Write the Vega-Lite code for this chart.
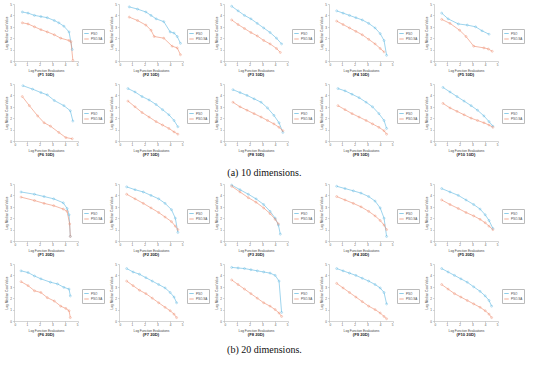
{
"$schema":"https://vega.github.io/schema/vega-lite/v6.json",
"padding":{"left":4,"top":3,"right":0,"bottom":0},
"background":"white",
"config":{
"font":"Liberation Sans",
"view":{"continuousWidth":64,"continuousHeight":57,"stroke":null},
"title":{"orient":"bottom","fontSize":4.2,"fontWeight":"bold","offset":1.5,"color":"#222","anchor":"middle"},
"axis":{"labelFontSize":3,"titleFontSize":3.2,"titleFontWeight":"normal","labelColor":"#555","titleColor":"#444","domainColor":"#aaa","tickColor":"#aaa","tickSize":1.5,"labelPadding":1,"titlePadding":1.5,"grid":false,"domainWidth":0.5,"tickWidth":0.5,"tickCount":6},
"legend":{"orient":"none","legendX":68,"legendY":25,"labelFontSize":3,"symbolType":"stroke","symbolSize":20,"symbolStrokeWidth":0.7,"strokeColor":"#bbb","padding":1.5,"rowPadding":0.5,"labelOffset":1.5,"labelColor":"#444"}
},
"data":{"values":[
{"panel":"F1 10D","alg":"PSO","x":0.65,"y":4.3},{"panel":"F1 10D","alg":"PSO","x":1.1,"y":4.2},{"panel":"F1 10D","alg":"PSO","x":1.6,"y":4.0},{"panel":"F1 10D","alg":"PSO","x":2.1,"y":3.9},{"panel":"F1 10D","alg":"PSO","x":2.6,"y":3.8},{"panel":"F1 10D","alg":"PSO","x":3.15,"y":3.55},{"panel":"F1 10D","alg":"PSO","x":3.5,"y":3.35},{"panel":"F1 10D","alg":"PSO","x":3.9,"y":3.05},{"panel":"F1 10D","alg":"PSO","x":4.3,"y":2.55},{"panel":"F1 10D","alg":"PSO","x":4.55,"y":1.0},
{"panel":"F1 10D","alg":"PSO-SA","x":0.65,"y":3.35},{"panel":"F1 10D","alg":"PSO-SA","x":1.1,"y":3.25},{"panel":"F1 10D","alg":"PSO-SA","x":1.6,"y":3.0},{"panel":"F1 10D","alg":"PSO-SA","x":2.1,"y":2.75},{"panel":"F1 10D","alg":"PSO-SA","x":2.6,"y":2.55},{"panel":"F1 10D","alg":"PSO-SA","x":3.15,"y":2.3},{"panel":"F1 10D","alg":"PSO-SA","x":3.65,"y":2.0},{"panel":"F1 10D","alg":"PSO-SA","x":4.3,"y":1.8},{"panel":"F1 10D","alg":"PSO-SA","x":4.45,"y":1.7},{"panel":"F1 10D","alg":"PSO-SA","x":4.6,"y":0.05},
{"panel":"F2 10D","alg":"PSO","x":0.8,"y":4.75},{"panel":"F2 10D","alg":"PSO","x":1.45,"y":4.55},{"panel":"F2 10D","alg":"PSO","x":2.1,"y":4.3},{"panel":"F2 10D","alg":"PSO","x":2.5,"y":4.0},{"panel":"F2 10D","alg":"PSO","x":2.9,"y":3.7},{"panel":"F2 10D","alg":"PSO","x":3.5,"y":3.45},{"panel":"F2 10D","alg":"PSO","x":4.0,"y":2.55},{"panel":"F2 10D","alg":"PSO","x":4.3,"y":2.45},{"panel":"F2 10D","alg":"PSO","x":4.55,"y":2.15},{"panel":"F2 10D","alg":"PSO","x":4.8,"y":1.55},
{"panel":"F2 10D","alg":"PSO-SA","x":0.8,"y":3.85},{"panel":"F2 10D","alg":"PSO-SA","x":1.45,"y":3.55},{"panel":"F2 10D","alg":"PSO-SA","x":2.1,"y":3.15},{"panel":"F2 10D","alg":"PSO-SA","x":2.5,"y":2.7},{"panel":"F2 10D","alg":"PSO-SA","x":2.75,"y":2.15},{"panel":"F2 10D","alg":"PSO-SA","x":3.5,"y":2.0},{"panel":"F2 10D","alg":"PSO-SA","x":4.15,"y":1.3},{"panel":"F2 10D","alg":"PSO-SA","x":4.55,"y":1.15},{"panel":"F2 10D","alg":"PSO-SA","x":4.8,"y":0.55},
{"panel":"F3 10D","alg":"PSO","x":0.6,"y":4.8},{"panel":"F3 10D","alg":"PSO","x":1.1,"y":4.4},{"panel":"F3 10D","alg":"PSO","x":1.6,"y":4.0},{"panel":"F3 10D","alg":"PSO","x":2.1,"y":3.7},{"panel":"F3 10D","alg":"PSO","x":2.6,"y":3.3},{"panel":"F3 10D","alg":"PSO","x":3.1,"y":2.9},{"panel":"F3 10D","alg":"PSO","x":3.6,"y":2.5},{"panel":"F3 10D","alg":"PSO","x":4.1,"y":2.0},{"panel":"F3 10D","alg":"PSO","x":4.5,"y":1.5},
{"panel":"F3 10D","alg":"PSO-SA","x":0.6,"y":3.6},{"panel":"F3 10D","alg":"PSO-SA","x":1.1,"y":3.2},{"panel":"F3 10D","alg":"PSO-SA","x":1.6,"y":2.85},{"panel":"F3 10D","alg":"PSO-SA","x":2.1,"y":2.5},{"panel":"F3 10D","alg":"PSO-SA","x":2.6,"y":2.2},{"panel":"F3 10D","alg":"PSO-SA","x":3.1,"y":1.8},{"panel":"F3 10D","alg":"PSO-SA","x":3.6,"y":1.5},{"panel":"F3 10D","alg":"PSO-SA","x":4.1,"y":1.1},{"panel":"F3 10D","alg":"PSO-SA","x":4.4,"y":0.75},
{"panel":"F4 10D","alg":"PSO","x":0.6,"y":4.4},{"panel":"F4 10D","alg":"PSO","x":1.1,"y":4.2},{"panel":"F4 10D","alg":"PSO","x":1.6,"y":4.0},{"panel":"F4 10D","alg":"PSO","x":2.1,"y":3.8},{"panel":"F4 10D","alg":"PSO","x":2.6,"y":3.6},{"panel":"F4 10D","alg":"PSO","x":3.1,"y":3.3},{"panel":"F4 10D","alg":"PSO","x":3.6,"y":2.9},{"panel":"F4 10D","alg":"PSO","x":4.0,"y":2.4},{"panel":"F4 10D","alg":"PSO","x":4.3,"y":1.8},{"panel":"F4 10D","alg":"PSO","x":4.5,"y":0.5},
{"panel":"F4 10D","alg":"PSO-SA","x":0.6,"y":3.5},{"panel":"F4 10D","alg":"PSO-SA","x":1.1,"y":3.2},{"panel":"F4 10D","alg":"PSO-SA","x":1.6,"y":2.9},{"panel":"F4 10D","alg":"PSO-SA","x":2.1,"y":2.6},{"panel":"F4 10D","alg":"PSO-SA","x":2.6,"y":2.3},{"panel":"F4 10D","alg":"PSO-SA","x":3.1,"y":1.9},{"panel":"F4 10D","alg":"PSO-SA","x":3.6,"y":1.5},{"panel":"F4 10D","alg":"PSO-SA","x":4.0,"y":1.1},{"panel":"F4 10D","alg":"PSO-SA","x":4.3,"y":0.8},
{"panel":"F5 10D","alg":"PSO","x":0.6,"y":4.2},{"panel":"F5 10D","alg":"PSO","x":1.1,"y":3.7},{"panel":"F5 10D","alg":"PSO","x":1.9,"y":3.25},{"panel":"F5 10D","alg":"PSO","x":2.6,"y":3.15},{"panel":"F5 10D","alg":"PSO","x":3.25,"y":3.0},{"panel":"F5 10D","alg":"PSO","x":3.75,"y":2.65},{"panel":"F5 10D","alg":"PSO","x":4.3,"y":2.35},
{"panel":"F5 10D","alg":"PSO-SA","x":0.6,"y":3.65},{"panel":"F5 10D","alg":"PSO-SA","x":1.25,"y":3.3},{"panel":"F5 10D","alg":"PSO-SA","x":2.0,"y":2.7},{"panel":"F5 10D","alg":"PSO-SA","x":2.5,"y":2.15},{"panel":"F5 10D","alg":"PSO-SA","x":3.1,"y":1.3},{"panel":"F5 10D","alg":"PSO-SA","x":3.9,"y":1.15},{"panel":"F5 10D","alg":"PSO-SA","x":4.25,"y":1.05},{"panel":"F5 10D","alg":"PSO-SA","x":4.55,"y":0.85},
{"panel":"F6 10D","alg":"PSO","x":0.7,"y":4.85},{"panel":"F6 10D","alg":"PSO","x":1.45,"y":4.55},{"panel":"F6 10D","alg":"PSO","x":2.1,"y":4.25},{"panel":"F6 10D","alg":"PSO","x":2.6,"y":4.05},{"panel":"F6 10D","alg":"PSO","x":3.15,"y":3.55},{"panel":"F6 10D","alg":"PSO","x":3.9,"y":3.1},{"panel":"F6 10D","alg":"PSO","x":4.4,"y":2.65},{"panel":"F6 10D","alg":"PSO","x":4.6,"y":1.75},
{"panel":"F6 10D","alg":"PSO-SA","x":0.65,"y":3.9},{"panel":"F6 10D","alg":"PSO-SA","x":1.2,"y":3.1},{"panel":"F6 10D","alg":"PSO-SA","x":1.85,"y":2.2},{"panel":"F6 10D","alg":"PSO-SA","x":2.35,"y":1.6},{"panel":"F6 10D","alg":"PSO-SA","x":2.85,"y":1.3},{"panel":"F6 10D","alg":"PSO-SA","x":3.5,"y":0.75},{"panel":"F6 10D","alg":"PSO-SA","x":4.05,"y":0.3},{"panel":"F6 10D","alg":"PSO-SA","x":4.55,"y":0.2},
{"panel":"F7 10D","alg":"PSO","x":0.7,"y":4.6},{"panel":"F7 10D","alg":"PSO","x":1.25,"y":4.3},{"panel":"F7 10D","alg":"PSO","x":1.8,"y":3.9},{"panel":"F7 10D","alg":"PSO","x":2.35,"y":3.6},{"panel":"F7 10D","alg":"PSO","x":2.9,"y":3.2},{"panel":"F7 10D","alg":"PSO","x":3.4,"y":2.75},{"panel":"F7 10D","alg":"PSO","x":3.9,"y":2.3},{"panel":"F7 10D","alg":"PSO","x":4.3,"y":1.8},{"panel":"F7 10D","alg":"PSO","x":4.6,"y":1.25},
{"panel":"F7 10D","alg":"PSO-SA","x":0.7,"y":3.5},{"panel":"F7 10D","alg":"PSO-SA","x":1.25,"y":3.0},{"panel":"F7 10D","alg":"PSO-SA","x":1.8,"y":2.5},{"panel":"F7 10D","alg":"PSO-SA","x":2.35,"y":2.1},{"panel":"F7 10D","alg":"PSO-SA","x":2.9,"y":1.7},{"panel":"F7 10D","alg":"PSO-SA","x":3.4,"y":1.4},{"panel":"F7 10D","alg":"PSO-SA","x":3.9,"y":1.1},{"panel":"F7 10D","alg":"PSO-SA","x":4.3,"y":0.8},{"panel":"F7 10D","alg":"PSO-SA","x":4.6,"y":0.6},
{"panel":"F8 10D","alg":"PSO","x":0.7,"y":4.5},{"panel":"F8 10D","alg":"PSO","x":1.25,"y":4.25},{"panel":"F8 10D","alg":"PSO","x":1.8,"y":4.0},{"panel":"F8 10D","alg":"PSO","x":2.35,"y":3.7},{"panel":"F8 10D","alg":"PSO","x":2.9,"y":3.4},{"panel":"F8 10D","alg":"PSO","x":3.4,"y":2.9},{"panel":"F8 10D","alg":"PSO","x":3.9,"y":2.25},{"panel":"F8 10D","alg":"PSO","x":4.3,"y":1.6},{"panel":"F8 10D","alg":"PSO","x":4.6,"y":0.75},
{"panel":"F8 10D","alg":"PSO-SA","x":0.7,"y":3.4},{"panel":"F8 10D","alg":"PSO-SA","x":1.25,"y":3.0},{"panel":"F8 10D","alg":"PSO-SA","x":1.8,"y":2.7},{"panel":"F8 10D","alg":"PSO-SA","x":2.35,"y":2.4},{"panel":"F8 10D","alg":"PSO-SA","x":2.9,"y":2.1},{"panel":"F8 10D","alg":"PSO-SA","x":3.4,"y":1.8},{"panel":"F8 10D","alg":"PSO-SA","x":3.9,"y":1.5},{"panel":"F8 10D","alg":"PSO-SA","x":4.3,"y":1.2},{"panel":"F8 10D","alg":"PSO-SA","x":4.6,"y":0.9},
{"panel":"F9 10D","alg":"PSO","x":0.7,"y":4.6},{"panel":"F9 10D","alg":"PSO","x":1.25,"y":4.4},{"panel":"F9 10D","alg":"PSO","x":1.8,"y":4.1},{"panel":"F9 10D","alg":"PSO","x":2.35,"y":3.8},{"panel":"F9 10D","alg":"PSO","x":2.9,"y":3.4},{"panel":"F9 10D","alg":"PSO","x":3.4,"y":3.0},{"panel":"F9 10D","alg":"PSO","x":3.9,"y":2.4},{"panel":"F9 10D","alg":"PSO","x":4.3,"y":1.8},{"panel":"F9 10D","alg":"PSO","x":4.5,"y":1.1},
{"panel":"F9 10D","alg":"PSO-SA","x":0.7,"y":3.1},{"panel":"F9 10D","alg":"PSO-SA","x":1.25,"y":2.75},{"panel":"F9 10D","alg":"PSO-SA","x":1.8,"y":2.4},{"panel":"F9 10D","alg":"PSO-SA","x":2.35,"y":2.1},{"panel":"F9 10D","alg":"PSO-SA","x":2.9,"y":1.8},{"panel":"F9 10D","alg":"PSO-SA","x":3.4,"y":1.5},{"panel":"F9 10D","alg":"PSO-SA","x":3.9,"y":1.2},{"panel":"F9 10D","alg":"PSO-SA","x":4.3,"y":0.9},{"panel":"F9 10D","alg":"PSO-SA","x":4.5,"y":0.6},
{"panel":"F10 10D","alg":"PSO","x":0.7,"y":4.7},{"panel":"F10 10D","alg":"PSO","x":1.25,"y":4.3},{"panel":"F10 10D","alg":"PSO","x":1.8,"y":3.9},{"panel":"F10 10D","alg":"PSO","x":2.35,"y":3.5},{"panel":"F10 10D","alg":"PSO","x":2.9,"y":3.1},{"panel":"F10 10D","alg":"PSO","x":3.4,"y":2.7},{"panel":"F10 10D","alg":"PSO","x":3.9,"y":2.2},{"panel":"F10 10D","alg":"PSO","x":4.3,"y":1.7},{"panel":"F10 10D","alg":"PSO","x":4.6,"y":1.3},
{"panel":"F10 10D","alg":"PSO-SA","x":0.7,"y":3.3},{"panel":"F10 10D","alg":"PSO-SA","x":1.25,"y":2.9},{"panel":"F10 10D","alg":"PSO-SA","x":1.8,"y":2.6},{"panel":"F10 10D","alg":"PSO-SA","x":2.35,"y":2.3},{"panel":"F10 10D","alg":"PSO-SA","x":2.9,"y":2.0},{"panel":"F10 10D","alg":"PSO-SA","x":3.4,"y":1.8},{"panel":"F10 10D","alg":"PSO-SA","x":3.9,"y":1.6},{"panel":"F10 10D","alg":"PSO-SA","x":4.3,"y":1.4},{"panel":"F10 10D","alg":"PSO-SA","x":4.6,"y":1.2},
{"panel":"F1 20D","alg":"PSO","x":0.55,"y":4.3},{"panel":"F1 20D","alg":"PSO","x":1.6,"y":4.1},{"panel":"F1 20D","alg":"PSO","x":2.35,"y":3.9},{"panel":"F1 20D","alg":"PSO","x":3.1,"y":3.7},{"panel":"F1 20D","alg":"PSO","x":3.85,"y":3.35},{"panel":"F1 20D","alg":"PSO","x":4.15,"y":2.85},{"panel":"F1 20D","alg":"PSO","x":4.3,"y":2.3},{"panel":"F1 20D","alg":"PSO","x":4.4,"y":0.4},
{"panel":"F1 20D","alg":"PSO-SA","x":0.55,"y":3.85},{"panel":"F1 20D","alg":"PSO-SA","x":1.6,"y":3.55},{"panel":"F1 20D","alg":"PSO-SA","x":2.35,"y":3.3},{"panel":"F1 20D","alg":"PSO-SA","x":3.1,"y":3.1},{"panel":"F1 20D","alg":"PSO-SA","x":3.85,"y":2.8},{"panel":"F1 20D","alg":"PSO-SA","x":4.15,"y":2.6},{"panel":"F1 20D","alg":"PSO-SA","x":4.35,"y":1.5},{"panel":"F1 20D","alg":"PSO-SA","x":4.4,"y":0.4},
{"panel":"F2 20D","alg":"PSO","x":0.6,"y":4.75},{"panel":"F2 20D","alg":"PSO","x":1.25,"y":4.5},{"panel":"F2 20D","alg":"PSO","x":1.9,"y":4.3},{"panel":"F2 20D","alg":"PSO","x":2.5,"y":4.0},{"panel":"F2 20D","alg":"PSO","x":3.1,"y":3.7},{"panel":"F2 20D","alg":"PSO","x":3.6,"y":3.3},{"panel":"F2 20D","alg":"PSO","x":4.1,"y":2.75},{"panel":"F2 20D","alg":"PSO","x":4.4,"y":2.0},{"panel":"F2 20D","alg":"PSO","x":4.6,"y":0.75},
{"panel":"F2 20D","alg":"PSO-SA","x":0.6,"y":4.1},{"panel":"F2 20D","alg":"PSO-SA","x":1.25,"y":3.7},{"panel":"F2 20D","alg":"PSO-SA","x":1.9,"y":3.3},{"panel":"F2 20D","alg":"PSO-SA","x":2.5,"y":2.9},{"panel":"F2 20D","alg":"PSO-SA","x":3.1,"y":2.5},{"panel":"F2 20D","alg":"PSO-SA","x":3.6,"y":2.1},{"panel":"F2 20D","alg":"PSO-SA","x":4.1,"y":1.7},{"panel":"F2 20D","alg":"PSO-SA","x":4.4,"y":1.3},{"panel":"F2 20D","alg":"PSO-SA","x":4.6,"y":1.0},
{"panel":"F3 20D","alg":"PSO","x":0.6,"y":4.9},{"panel":"F3 20D","alg":"PSO","x":1.25,"y":4.5},{"panel":"F3 20D","alg":"PSO","x":1.9,"y":4.1},{"panel":"F3 20D","alg":"PSO","x":2.5,"y":3.7},{"panel":"F3 20D","alg":"PSO","x":3.1,"y":3.2},{"panel":"F3 20D","alg":"PSO","x":3.6,"y":2.6},{"panel":"F3 20D","alg":"PSO","x":4.0,"y":2.0},{"panel":"F3 20D","alg":"PSO","x":4.25,"y":1.4},{"panel":"F3 20D","alg":"PSO","x":4.4,"y":0.6},
{"panel":"F3 20D","alg":"PSO-SA","x":0.6,"y":4.8},{"panel":"F3 20D","alg":"PSO-SA","x":1.25,"y":4.3},{"panel":"F3 20D","alg":"PSO-SA","x":1.9,"y":3.8},{"panel":"F3 20D","alg":"PSO-SA","x":2.5,"y":3.4},{"panel":"F3 20D","alg":"PSO-SA","x":3.1,"y":2.9},{"panel":"F3 20D","alg":"PSO-SA","x":3.6,"y":2.4},{"panel":"F3 20D","alg":"PSO-SA","x":4.0,"y":1.9},{"panel":"F3 20D","alg":"PSO-SA","x":4.25,"y":1.5},
{"panel":"F4 20D","alg":"PSO","x":0.6,"y":4.8},{"panel":"F4 20D","alg":"PSO","x":1.25,"y":4.6},{"panel":"F4 20D","alg":"PSO","x":1.9,"y":4.4},{"panel":"F4 20D","alg":"PSO","x":2.5,"y":4.2},{"panel":"F4 20D","alg":"PSO","x":3.1,"y":3.9},{"panel":"F4 20D","alg":"PSO","x":3.6,"y":3.5},{"panel":"F4 20D","alg":"PSO","x":4.0,"y":2.9},{"panel":"F4 20D","alg":"PSO","x":4.3,"y":2.0},{"panel":"F4 20D","alg":"PSO","x":4.5,"y":0.4},
{"panel":"F4 20D","alg":"PSO-SA","x":0.6,"y":3.9},{"panel":"F4 20D","alg":"PSO-SA","x":1.25,"y":3.6},{"panel":"F4 20D","alg":"PSO-SA","x":1.9,"y":3.3},{"panel":"F4 20D","alg":"PSO-SA","x":2.5,"y":3.0},{"panel":"F4 20D","alg":"PSO-SA","x":3.1,"y":2.6},{"panel":"F4 20D","alg":"PSO-SA","x":3.6,"y":2.2},{"panel":"F4 20D","alg":"PSO-SA","x":4.0,"y":1.8},{"panel":"F4 20D","alg":"PSO-SA","x":4.3,"y":1.4},{"panel":"F4 20D","alg":"PSO-SA","x":4.5,"y":1.0},
{"panel":"F5 20D","alg":"PSO","x":0.6,"y":4.6},{"panel":"F5 20D","alg":"PSO","x":1.25,"y":4.3},{"panel":"F5 20D","alg":"PSO","x":1.9,"y":4.0},{"panel":"F5 20D","alg":"PSO","x":2.5,"y":3.6},{"panel":"F5 20D","alg":"PSO","x":3.1,"y":3.2},{"panel":"F5 20D","alg":"PSO","x":3.6,"y":2.8},{"panel":"F5 20D","alg":"PSO","x":4.0,"y":2.3},{"panel":"F5 20D","alg":"PSO","x":4.3,"y":1.8},{"panel":"F5 20D","alg":"PSO","x":4.6,"y":1.1},
{"panel":"F5 20D","alg":"PSO-SA","x":0.6,"y":3.6},{"panel":"F5 20D","alg":"PSO-SA","x":1.25,"y":3.2},{"panel":"F5 20D","alg":"PSO-SA","x":1.9,"y":2.85},{"panel":"F5 20D","alg":"PSO-SA","x":2.5,"y":2.5},{"panel":"F5 20D","alg":"PSO-SA","x":3.1,"y":2.2},{"panel":"F5 20D","alg":"PSO-SA","x":3.6,"y":1.9},{"panel":"F5 20D","alg":"PSO-SA","x":4.0,"y":1.6},{"panel":"F5 20D","alg":"PSO-SA","x":4.3,"y":1.3},{"panel":"F5 20D","alg":"PSO-SA","x":4.6,"y":1.0},
{"panel":"F6 20D","alg":"PSO","x":0.55,"y":4.4},{"panel":"F6 20D","alg":"PSO","x":1.1,"y":4.25},{"panel":"F6 20D","alg":"PSO","x":1.6,"y":3.95},{"panel":"F6 20D","alg":"PSO","x":2.1,"y":3.7},{"panel":"F6 20D","alg":"PSO","x":2.85,"y":3.4},{"panel":"F6 20D","alg":"PSO","x":3.4,"y":3.25},{"panel":"F6 20D","alg":"PSO","x":3.9,"y":2.95},{"panel":"F6 20D","alg":"PSO","x":4.3,"y":2.8},{"panel":"F6 20D","alg":"PSO","x":4.4,"y":2.2},
{"panel":"F6 20D","alg":"PSO-SA","x":0.55,"y":3.45},{"panel":"F6 20D","alg":"PSO-SA","x":1.1,"y":3.1},{"panel":"F6 20D","alg":"PSO-SA","x":1.6,"y":2.65},{"panel":"F6 20D","alg":"PSO-SA","x":2.1,"y":2.5},{"panel":"F6 20D","alg":"PSO-SA","x":2.6,"y":2.05},{"panel":"F6 20D","alg":"PSO-SA","x":3.15,"y":1.75},{"panel":"F6 20D","alg":"PSO-SA","x":3.65,"y":1.3},{"panel":"F6 20D","alg":"PSO-SA","x":4.05,"y":1.1},{"panel":"F6 20D","alg":"PSO-SA","x":4.3,"y":0.9},{"panel":"F6 20D","alg":"PSO-SA","x":4.4,"y":0.3},
{"panel":"F7 20D","alg":"PSO","x":0.6,"y":4.6},{"panel":"F7 20D","alg":"PSO","x":1.1,"y":4.3},{"panel":"F7 20D","alg":"PSO","x":1.6,"y":4.1},{"panel":"F7 20D","alg":"PSO","x":2.1,"y":3.8},{"panel":"F7 20D","alg":"PSO","x":2.6,"y":3.5},{"panel":"F7 20D","alg":"PSO","x":3.1,"y":3.2},{"panel":"F7 20D","alg":"PSO","x":3.6,"y":2.9},{"panel":"F7 20D","alg":"PSO","x":4.0,"y":2.5},{"panel":"F7 20D","alg":"PSO","x":4.3,"y":2.1},{"panel":"F7 20D","alg":"PSO","x":4.5,"y":1.6},
{"panel":"F7 20D","alg":"PSO-SA","x":0.6,"y":3.5},{"panel":"F7 20D","alg":"PSO-SA","x":1.1,"y":3.1},{"panel":"F7 20D","alg":"PSO-SA","x":1.6,"y":2.7},{"panel":"F7 20D","alg":"PSO-SA","x":2.1,"y":2.4},{"panel":"F7 20D","alg":"PSO-SA","x":2.6,"y":2.0},{"panel":"F7 20D","alg":"PSO-SA","x":3.1,"y":1.6},{"panel":"F7 20D","alg":"PSO-SA","x":3.6,"y":1.2},{"panel":"F7 20D","alg":"PSO-SA","x":4.0,"y":0.9},{"panel":"F7 20D","alg":"PSO-SA","x":4.3,"y":0.6},{"panel":"F7 20D","alg":"PSO-SA","x":4.5,"y":0.3},
{"panel":"F8 20D","alg":"PSO","x":0.6,"y":4.7},{"panel":"F8 20D","alg":"PSO","x":1.1,"y":4.65},{"panel":"F8 20D","alg":"PSO","x":1.6,"y":4.6},{"panel":"F8 20D","alg":"PSO","x":2.1,"y":4.5},{"panel":"F8 20D","alg":"PSO","x":2.6,"y":4.4},{"panel":"F8 20D","alg":"PSO","x":3.1,"y":4.3},{"panel":"F8 20D","alg":"PSO","x":3.6,"y":4.2},{"panel":"F8 20D","alg":"PSO","x":4.0,"y":4.0},{"panel":"F8 20D","alg":"PSO","x":4.3,"y":3.5},{"panel":"F8 20D","alg":"PSO","x":4.5,"y":0.75},
{"panel":"F8 20D","alg":"PSO-SA","x":0.6,"y":3.6},{"panel":"F8 20D","alg":"PSO-SA","x":1.1,"y":3.2},{"panel":"F8 20D","alg":"PSO-SA","x":1.6,"y":2.8},{"panel":"F8 20D","alg":"PSO-SA","x":2.1,"y":2.4},{"panel":"F8 20D","alg":"PSO-SA","x":2.6,"y":2.0},{"panel":"F8 20D","alg":"PSO-SA","x":3.1,"y":1.6},{"panel":"F8 20D","alg":"PSO-SA","x":3.6,"y":1.3},{"panel":"F8 20D","alg":"PSO-SA","x":4.0,"y":1.0},{"panel":"F8 20D","alg":"PSO-SA","x":4.3,"y":0.7},{"panel":"F8 20D","alg":"PSO-SA","x":4.5,"y":0.4},
{"panel":"F9 20D","alg":"PSO","x":0.6,"y":4.6},{"panel":"F9 20D","alg":"PSO","x":1.1,"y":4.4},{"panel":"F9 20D","alg":"PSO","x":1.6,"y":4.2},{"panel":"F9 20D","alg":"PSO","x":2.1,"y":4.0},{"panel":"F9 20D","alg":"PSO","x":2.6,"y":3.75},{"panel":"F9 20D","alg":"PSO","x":3.1,"y":3.5},{"panel":"F9 20D","alg":"PSO","x":3.6,"y":3.2},{"panel":"F9 20D","alg":"PSO","x":4.0,"y":2.9},{"panel":"F9 20D","alg":"PSO","x":4.3,"y":2.5},{"panel":"F9 20D","alg":"PSO","x":4.5,"y":1.5},
{"panel":"F9 20D","alg":"PSO-SA","x":0.6,"y":3.3},{"panel":"F9 20D","alg":"PSO-SA","x":1.1,"y":2.9},{"panel":"F9 20D","alg":"PSO-SA","x":1.6,"y":2.5},{"panel":"F9 20D","alg":"PSO-SA","x":2.1,"y":2.1},{"panel":"F9 20D","alg":"PSO-SA","x":2.6,"y":1.7},{"panel":"F9 20D","alg":"PSO-SA","x":3.1,"y":1.3},{"panel":"F9 20D","alg":"PSO-SA","x":3.6,"y":1.0},{"panel":"F9 20D","alg":"PSO-SA","x":4.0,"y":0.7},{"panel":"F9 20D","alg":"PSO-SA","x":4.3,"y":0.4},{"panel":"F9 20D","alg":"PSO-SA","x":4.5,"y":0.2},
{"panel":"F10 20D","alg":"PSO","x":0.6,"y":4.6},{"panel":"F10 20D","alg":"PSO","x":1.1,"y":4.3},{"panel":"F10 20D","alg":"PSO","x":1.6,"y":4.0},{"panel":"F10 20D","alg":"PSO","x":2.1,"y":3.7},{"panel":"F10 20D","alg":"PSO","x":2.6,"y":3.4},{"panel":"F10 20D","alg":"PSO","x":3.1,"y":3.0},{"panel":"F10 20D","alg":"PSO","x":3.6,"y":2.6},{"panel":"F10 20D","alg":"PSO","x":4.0,"y":2.2},{"panel":"F10 20D","alg":"PSO","x":4.3,"y":1.8},{"panel":"F10 20D","alg":"PSO","x":4.5,"y":1.3},
{"panel":"F10 20D","alg":"PSO-SA","x":0.6,"y":3.2},{"panel":"F10 20D","alg":"PSO-SA","x":1.1,"y":2.8},{"panel":"F10 20D","alg":"PSO-SA","x":1.6,"y":2.4},{"panel":"F10 20D","alg":"PSO-SA","x":2.1,"y":2.1},{"panel":"F10 20D","alg":"PSO-SA","x":2.6,"y":1.8},{"panel":"F10 20D","alg":"PSO-SA","x":3.1,"y":1.5},{"panel":"F10 20D","alg":"PSO-SA","x":3.6,"y":1.2},{"panel":"F10 20D","alg":"PSO-SA","x":4.0,"y":0.9},{"panel":"F10 20D","alg":"PSO-SA","x":4.3,"y":0.6},{"panel":"F10 20D","alg":"PSO-SA","x":4.5,"y":0.3}
]},
"spacing":5,
"resolve":{"scale":{"color":"independent"},"legend":{"color":"independent"}},
"vconcat":[
{"title":{"text":"(a) 10 dimensions.","orient":"bottom","fontSize":10,"fontWeight":"normal","font":"Liberation Serif","offset":11,"color":"#111"},
"spacing":6,
"resolve":{"scale":{"color":"independent"},"legend":{"color":"independent"}},
"vconcat":[
{"spacing":4,"resolve":{"scale":{"color":"independent"},"legend":{"color":"independent"}},"hconcat":[
{"title":"(F1 10D)","transform":[{"filter":"datum.panel==='F1 10D'"}],"mark":{"type":"line","strokeWidth":0.6,"point":{"filled":false,"size":4,"strokeWidth":0.4}},"encoding":{"x":{"field":"x","type":"quantitative","scale":{"domain":[0,5]},"title":"Log Function Evaluations"},"y":{"field":"y","type":"quantitative","scale":{"domain":[0,5]},"title":"Log Median Cost Value"},"color":{"field":"alg","type":"nominal","title":null,"scale":{"domain":["PSO","PSO-SA"],"range":["#5db7e0","#ee8a6c"]}}}},
{"title":"(F2 10D)","transform":[{"filter":"datum.panel==='F2 10D'"}],"mark":{"type":"line","strokeWidth":0.6,"point":{"filled":false,"size":4,"strokeWidth":0.4}},"encoding":{"x":{"field":"x","type":"quantitative","scale":{"domain":[0,5]},"title":"Log Function Evaluations"},"y":{"field":"y","type":"quantitative","scale":{"domain":[0,5]},"title":"Log Median Cost Value"},"color":{"field":"alg","type":"nominal","title":null,"scale":{"domain":["PSO","PSO-SA"],"range":["#5db7e0","#ee8a6c"]}}}},
{"title":"(F3 10D)","transform":[{"filter":"datum.panel==='F3 10D'"}],"mark":{"type":"line","strokeWidth":0.6,"point":{"filled":false,"size":4,"strokeWidth":0.4}},"encoding":{"x":{"field":"x","type":"quantitative","scale":{"domain":[0,5]},"title":"Log Function Evaluations"},"y":{"field":"y","type":"quantitative","scale":{"domain":[0,5]},"title":"Log Median Cost Value"},"color":{"field":"alg","type":"nominal","title":null,"scale":{"domain":["PSO","PSO-SA"],"range":["#5db7e0","#ee8a6c"]}}}},
{"title":"(F4 10D)","transform":[{"filter":"datum.panel==='F4 10D'"}],"mark":{"type":"line","strokeWidth":0.6,"point":{"filled":false,"size":4,"strokeWidth":0.4}},"encoding":{"x":{"field":"x","type":"quantitative","scale":{"domain":[0,5]},"title":"Log Function Evaluations"},"y":{"field":"y","type":"quantitative","scale":{"domain":[0,5]},"title":"Log Median Cost Value"},"color":{"field":"alg","type":"nominal","title":null,"scale":{"domain":["PSO","PSO-SA"],"range":["#5db7e0","#ee8a6c"]}}}},
{"title":"(F5 10D)","transform":[{"filter":"datum.panel==='F5 10D'"}],"mark":{"type":"line","strokeWidth":0.6,"point":{"filled":false,"size":4,"strokeWidth":0.4}},"encoding":{"x":{"field":"x","type":"quantitative","scale":{"domain":[0,5]},"title":"Log Function Evaluations"},"y":{"field":"y","type":"quantitative","scale":{"domain":[0,5]},"title":"Log Median Cost Value"},"color":{"field":"alg","type":"nominal","title":null,"scale":{"domain":["PSO","PSO-SA"],"range":["#5db7e0","#ee8a6c"]}}}}
]},
{"spacing":4,"resolve":{"scale":{"color":"independent"},"legend":{"color":"independent"}},"hconcat":[
{"title":"(F6 10D)","transform":[{"filter":"datum.panel==='F6 10D'"}],"mark":{"type":"line","strokeWidth":0.6,"point":{"filled":false,"size":4,"strokeWidth":0.4}},"encoding":{"x":{"field":"x","type":"quantitative","scale":{"domain":[0,5]},"title":"Log Function Evaluations"},"y":{"field":"y","type":"quantitative","scale":{"domain":[0,5]},"title":"Log Median Cost Value"},"color":{"field":"alg","type":"nominal","title":null,"scale":{"domain":["PSO","PSO-SA"],"range":["#5db7e0","#ee8a6c"]}}}},
{"title":"(F7 10D)","transform":[{"filter":"datum.panel==='F7 10D'"}],"mark":{"type":"line","strokeWidth":0.6,"point":{"filled":false,"size":4,"strokeWidth":0.4}},"encoding":{"x":{"field":"x","type":"quantitative","scale":{"domain":[0,5]},"title":"Log Function Evaluations"},"y":{"field":"y","type":"quantitative","scale":{"domain":[0,5]},"title":"Log Median Cost Value"},"color":{"field":"alg","type":"nominal","title":null,"scale":{"domain":["PSO","PSO-SA"],"range":["#5db7e0","#ee8a6c"]}}}},
{"title":"(F8 10D)","transform":[{"filter":"datum.panel==='F8 10D'"}],"mark":{"type":"line","strokeWidth":0.6,"point":{"filled":false,"size":4,"strokeWidth":0.4}},"encoding":{"x":{"field":"x","type":"quantitative","scale":{"domain":[0,5]},"title":"Log Function Evaluations"},"y":{"field":"y","type":"quantitative","scale":{"domain":[0,5]},"title":"Log Median Cost Value"},"color":{"field":"alg","type":"nominal","title":null,"scale":{"domain":["PSO","PSO-SA"],"range":["#5db7e0","#ee8a6c"]}}}},
{"title":"(F9 10D)","transform":[{"filter":"datum.panel==='F9 10D'"}],"mark":{"type":"line","strokeWidth":0.6,"point":{"filled":false,"size":4,"strokeWidth":0.4}},"encoding":{"x":{"field":"x","type":"quantitative","scale":{"domain":[0,5]},"title":"Log Function Evaluations"},"y":{"field":"y","type":"quantitative","scale":{"domain":[0,5]},"title":"Log Median Cost Value"},"color":{"field":"alg","type":"nominal","title":null,"scale":{"domain":["PSO","PSO-SA"],"range":["#5db7e0","#ee8a6c"]}}}},
{"title":"(F10 10D)","transform":[{"filter":"datum.panel==='F10 10D'"}],"mark":{"type":"line","strokeWidth":0.6,"point":{"filled":false,"size":4,"strokeWidth":0.4}},"encoding":{"x":{"field":"x","type":"quantitative","scale":{"domain":[0,5]},"title":"Log Function Evaluations"},"y":{"field":"y","type":"quantitative","scale":{"domain":[0,5]},"title":"Log Median Cost Value"},"color":{"field":"alg","type":"nominal","title":null,"scale":{"domain":["PSO","PSO-SA"],"range":["#5db7e0","#ee8a6c"]}}}}
]}
]},
{"title":{"text":"(b) 20 dimensions.","orient":"bottom","fontSize":10,"fontWeight":"normal","font":"Liberation Serif","offset":8,"color":"#111"},
"spacing":6,
"resolve":{"scale":{"color":"independent"},"legend":{"color":"independent"}},
"vconcat":[
{"spacing":4,"resolve":{"scale":{"color":"independent"},"legend":{"color":"independent"}},"hconcat":[
{"title":"(F1 20D)","transform":[{"filter":"datum.panel==='F1 20D'"}],"mark":{"type":"line","strokeWidth":0.6,"point":{"filled":false,"size":4,"strokeWidth":0.4}},"encoding":{"x":{"field":"x","type":"quantitative","scale":{"domain":[0,5]},"title":"Log Function Evaluations"},"y":{"field":"y","type":"quantitative","scale":{"domain":[0,5]},"title":"Log Median Cost Value"},"color":{"field":"alg","type":"nominal","title":null,"scale":{"domain":["PSO","PSO-SA"],"range":["#5db7e0","#ee8a6c"]}}}},
{"title":"(F2 20D)","transform":[{"filter":"datum.panel==='F2 20D'"}],"mark":{"type":"line","strokeWidth":0.6,"point":{"filled":false,"size":4,"strokeWidth":0.4}},"encoding":{"x":{"field":"x","type":"quantitative","scale":{"domain":[0,5]},"title":"Log Function Evaluations"},"y":{"field":"y","type":"quantitative","scale":{"domain":[0,5]},"title":"Log Median Cost Value"},"color":{"field":"alg","type":"nominal","title":null,"scale":{"domain":["PSO","PSO-SA"],"range":["#5db7e0","#ee8a6c"]}}}},
{"title":"(F3 20D)","transform":[{"filter":"datum.panel==='F3 20D'"}],"mark":{"type":"line","strokeWidth":0.6,"point":{"filled":false,"size":4,"strokeWidth":0.4}},"encoding":{"x":{"field":"x","type":"quantitative","scale":{"domain":[0,5]},"title":"Log Function Evaluations"},"y":{"field":"y","type":"quantitative","scale":{"domain":[0,5]},"title":"Log Median Cost Value"},"color":{"field":"alg","type":"nominal","title":null,"scale":{"domain":["PSO","PSO-SA"],"range":["#5db7e0","#ee8a6c"]}}}},
{"title":"(F4 20D)","transform":[{"filter":"datum.panel==='F4 20D'"}],"mark":{"type":"line","strokeWidth":0.6,"point":{"filled":false,"size":4,"strokeWidth":0.4}},"encoding":{"x":{"field":"x","type":"quantitative","scale":{"domain":[0,5]},"title":"Log Function Evaluations"},"y":{"field":"y","type":"quantitative","scale":{"domain":[0,5]},"title":"Log Median Cost Value"},"color":{"field":"alg","type":"nominal","title":null,"scale":{"domain":["PSO","PSO-SA"],"range":["#5db7e0","#ee8a6c"]}}}},
{"title":"(F5 20D)","transform":[{"filter":"datum.panel==='F5 20D'"}],"mark":{"type":"line","strokeWidth":0.6,"point":{"filled":false,"size":4,"strokeWidth":0.4}},"encoding":{"x":{"field":"x","type":"quantitative","scale":{"domain":[0,5]},"title":"Log Function Evaluations"},"y":{"field":"y","type":"quantitative","scale":{"domain":[0,5]},"title":"Log Median Cost Value"},"color":{"field":"alg","type":"nominal","title":null,"scale":{"domain":["PSO","PSO-SA"],"range":["#5db7e0","#ee8a6c"]}}}}
]},
{"spacing":4,"resolve":{"scale":{"color":"independent"},"legend":{"color":"independent"}},"hconcat":[
{"title":"(F6 20D)","transform":[{"filter":"datum.panel==='F6 20D'"}],"mark":{"type":"line","strokeWidth":0.6,"point":{"filled":false,"size":4,"strokeWidth":0.4}},"encoding":{"x":{"field":"x","type":"quantitative","scale":{"domain":[0,5]},"title":"Log Function Evaluations"},"y":{"field":"y","type":"quantitative","scale":{"domain":[0,5]},"title":"Log Median Cost Value"},"color":{"field":"alg","type":"nominal","title":null,"scale":{"domain":["PSO","PSO-SA"],"range":["#5db7e0","#ee8a6c"]}}}},
{"title":"(F7 20D)","transform":[{"filter":"datum.panel==='F7 20D'"}],"mark":{"type":"line","strokeWidth":0.6,"point":{"filled":false,"size":4,"strokeWidth":0.4}},"encoding":{"x":{"field":"x","type":"quantitative","scale":{"domain":[0,5]},"title":"Log Function Evaluations"},"y":{"field":"y","type":"quantitative","scale":{"domain":[0,5]},"title":"Log Median Cost Value"},"color":{"field":"alg","type":"nominal","title":null,"scale":{"domain":["PSO","PSO-SA"],"range":["#5db7e0","#ee8a6c"]}}}},
{"title":"(F8 20D)","transform":[{"filter":"datum.panel==='F8 20D'"}],"mark":{"type":"line","strokeWidth":0.6,"point":{"filled":false,"size":4,"strokeWidth":0.4}},"encoding":{"x":{"field":"x","type":"quantitative","scale":{"domain":[0,5]},"title":"Log Function Evaluations"},"y":{"field":"y","type":"quantitative","scale":{"domain":[0,5]},"title":"Log Median Cost Value"},"color":{"field":"alg","type":"nominal","title":null,"scale":{"domain":["PSO","PSO-SA"],"range":["#5db7e0","#ee8a6c"]}}}},
{"title":"(F9 20D)","transform":[{"filter":"datum.panel==='F9 20D'"}],"mark":{"type":"line","strokeWidth":0.6,"point":{"filled":false,"size":4,"strokeWidth":0.4}},"encoding":{"x":{"field":"x","type":"quantitative","scale":{"domain":[0,5]},"title":"Log Function Evaluations"},"y":{"field":"y","type":"quantitative","scale":{"domain":[0,5]},"title":"Log Median Cost Value"},"color":{"field":"alg","type":"nominal","title":null,"scale":{"domain":["PSO","PSO-SA"],"range":["#5db7e0","#ee8a6c"]}}}},
{"title":"(F10 20D)","transform":[{"filter":"datum.panel==='F10 20D'"}],"mark":{"type":"line","strokeWidth":0.6,"point":{"filled":false,"size":4,"strokeWidth":0.4}},"encoding":{"x":{"field":"x","type":"quantitative","scale":{"domain":[0,5]},"title":"Log Function Evaluations"},"y":{"field":"y","type":"quantitative","scale":{"domain":[0,5]},"title":"Log Median Cost Value"},"color":{"field":"alg","type":"nominal","title":null,"scale":{"domain":["PSO","PSO-SA"],"range":["#5db7e0","#ee8a6c"]}}}}
]}
]}
]
}
